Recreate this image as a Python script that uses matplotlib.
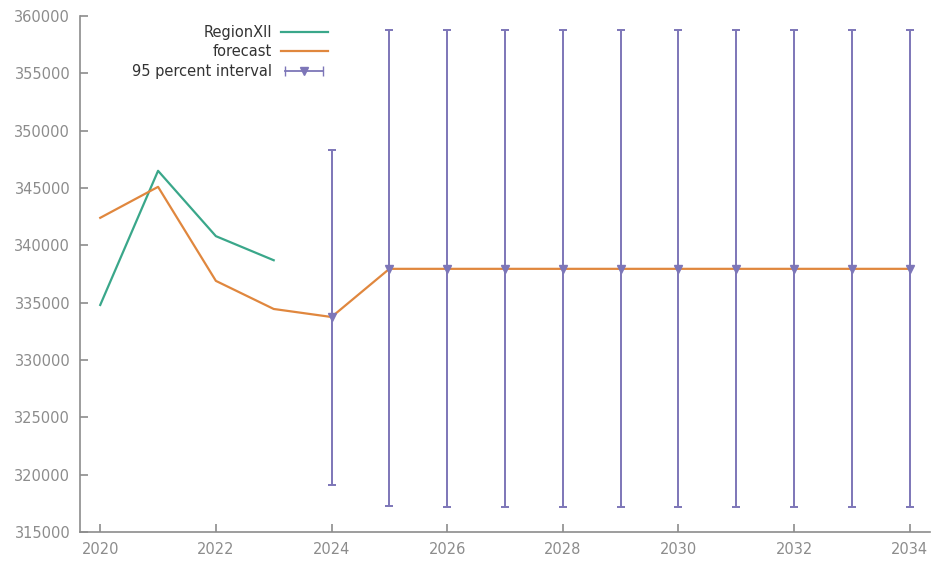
import matplotlib
matplotlib.use("Agg")
import matplotlib.pyplot as plt
from matplotlib.lines import Line2D
from matplotlib.legend_handler import HandlerLine2D, HandlerTuple

# observed values
years_obs = [2020, 2021, 2022, 2023]
region_xii = [334800, 346500, 340800, 338700]

# forecast (fitted + projected)
years_fc = list(range(2020, 2035))
forecast = [342400, 345100, 336900, 334450, 333750,
            337950, 337950, 337950, 337950, 337950,
            337950, 337950, 337950, 337950, 337950]

# 95 percent interval for the projected years
years_ci = list(range(2024, 2035))
ci_mid = forecast[4:]
ci_low = [319100, 317300, 317200, 317200, 317200, 317200,
          317200, 317200, 317200, 317200, 317200]
ci_high = [348300, 358800, 358800, 358800, 358800, 358800,
           358800, 358800, 358800, 358800, 358800]

green = '#3aa78a'
orange = '#e0873e'
purple = '#7d76b8'
grey = '#8c8c8c'

fig = plt.figure(figsize=(9.33, 5.63), dpi=100)
ax = fig.add_axes([80 / 933, 1 - 532 / 563, 850 / 933, 516 / 563])

ax.plot(years_obs, region_xii, color=green, lw=1.6, label='RegionXII')
ax.plot(years_fc, forecast, color=orange, lw=1.6, label='forecast')

err_lo = [m - l for m, l in zip(ci_mid, ci_low)]
err_hi = [h - m for m, h in zip(ci_mid, ci_high)]
ax.errorbar(years_ci, ci_mid, yerr=[err_lo, err_hi], fmt='none',
            ecolor=purple, elinewidth=1.4, capsize=3, capthick=1.4)
ax.plot(years_ci, ci_mid, linestyle='none', marker='v', ms=6,
        color=purple, zorder=3)

ax.set_xlim(2019.65, 2034.35)
ax.set_ylim(315000, 360000)
ax.set_xticks(range(2020, 2035, 2))
ax.set_yticks(range(315000, 360001, 5000))

for s in ['top', 'right']:
    ax.spines[s].set_visible(False)
for s in ['left', 'bottom']:
    ax.spines[s].set_color(grey)
    ax.spines[s].set_linewidth(1.2)
ax.tick_params(direction='in', length=6, width=1.2, color=grey,
               labelcolor=grey, labelsize=10.5, pad=7)

# legend proxies (gnuplot-like: text on the left, sample on the right)
h_green = Line2D([], [], color=green, lw=1.6)
h_orange = Line2D([], [], color=orange, lw=1.6)
h_bar = Line2D([], [], color=purple, lw=1.3, marker='|', ms=7)
h_tri = Line2D([], [], color=purple, linestyle='none', marker='v', ms=6)
leg = ax.legend([h_green, h_orange, (h_bar, h_tri)],
                ['RegionXII', 'forecast', '95 percent interval'],
                handler_map={h_bar: HandlerLine2D(numpoints=2),
                             h_tri: HandlerLine2D(numpoints=1),
                             tuple: HandlerTuple(ndivide=1)},
                loc='upper left', bbox_to_anchor=(0.046, 1.008),
                frameon=False, markerfirst=False, fontsize=10.5,
                handlelength=3.2, handletextpad=0.6, labelspacing=0.3)
for t in leg.get_texts():
    t.set_color('#333333')

fig.savefig('out.png', dpi=100)
